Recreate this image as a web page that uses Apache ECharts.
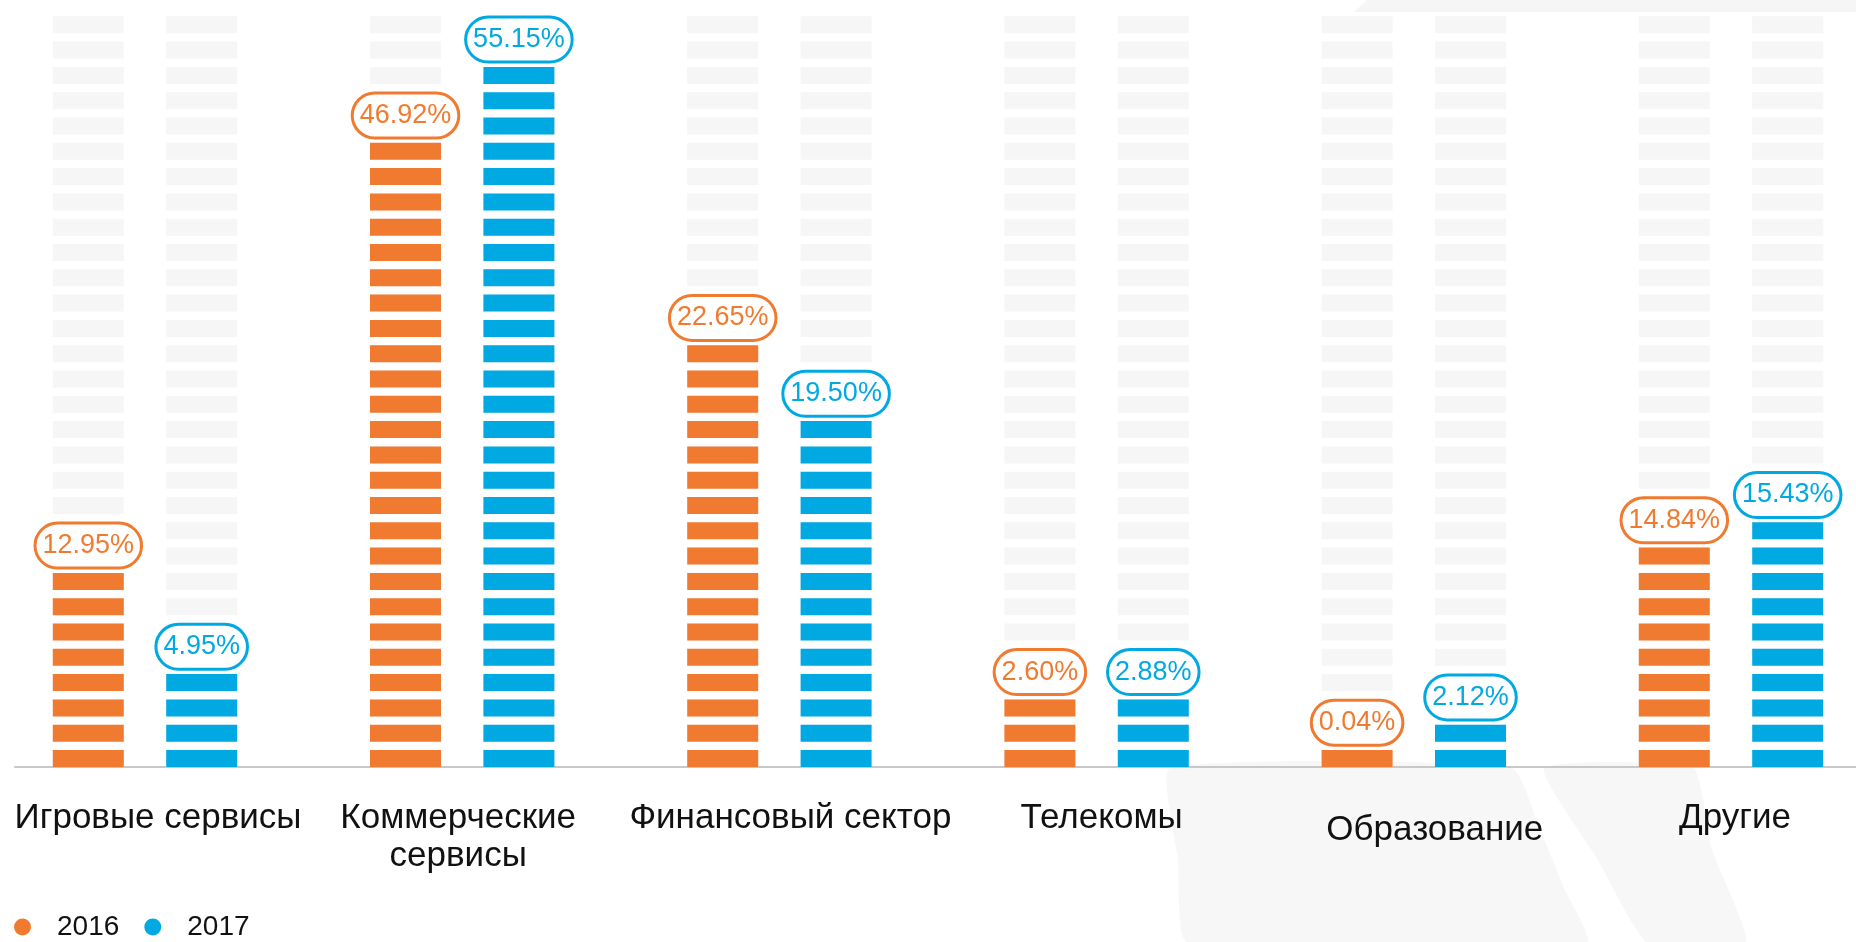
<!DOCTYPE html>
<html>
<head>
<meta charset="utf-8">
<script src="https://cdn.jsdelivr.net/npm/echarts@6/dist/echarts.min.js"></script>
<style>
html, body { margin: 0; padding: 0; background: #fff; }
#main { width: 1856px; height: 942px; }
</style>
</head>
<body>
<div id="main"></div>
<script>
var categories = ['Игровые сервисы', 'Коммерческие\nсервисы', 'Финансовый сектор', 'Телекомы', 'Образование', 'Другие'];
var share2016 = [12.95, 46.92, 22.65, 2.60, 0.04, 14.84];
var share2017 = [4.95, 55.15, 19.50, 2.88, 2.12, 15.43];
// bar heights as drawn in the picture, counted in segments (the drawing is not to scale)
var segments2016 = [8, 25, 17, 3, 1, 9];
var segments2017 = [4, 28, 14, 3, 2, 10];
var totalSegments = 30;

var orange = '#F07B30';
var blue = '#00A9E2';
var grey = '#F6F6F6';
var fontFamily = '"Liberation Sans", Arial, sans-serif';
var shift = 56.7; // half distance between the two columns of a category

var myChart = echarts.init(document.getElementById('main'));

// one segmented column, dx moves it left / right of the category centre
function column(name, color, segs, shares, dx, z) {
    var s = {
        name: name,
        type: 'pictorialBar',
        xAxisIndex: 0,
        yAxisIndex: 0,
        barWidth: 71,
        barGap: '-100%',
        z: z,
        silent: true,
        symbol: 'rect',
        symbolSize: [71, 17],
        symbolRepeat: true,
        symbolMargin: '4.15!',
        symbolOffset: [dx, 4.15],
        itemStyle: { color: color },
        data: segs
    };
    if (shares) {
        s.label = {
            show: true,
            position: 'top',
            distance: -2,
            offset: [dx, 0],
            formatter: function (p) {
                return shares[p.dataIndex].toFixed(2) + '%';
            },
            color: color,
            fontSize: 27,
            fontFamily: fontFamily,
            lineHeight: 32,
            backgroundColor: '#fff',
            borderColor: color,
            borderWidth: 3,
            borderRadius: 24,
            padding: [5, 6]
        };
    }
    return s;
}

var full = categories.map(function () { return totalSegments; });
// small nudges of the category labels as placed in the picture
var labelNudge = [13, -4, 11, 5, 21, 4];

var option = {
    backgroundColor: '#fff',
    animation: false,
    // faint logo watermark behind the chart
    graphic: [{
        type: 'polygon',
        z: 0,
        silent: true,
        shape: { points: [[1367, 0], [1856, 0], [1856, 12], [1354, 12]] },
        style: { fill: grey }
    }, {
        type: 'polygon',
        z: 0,
        silent: true,
        shape: { points: [[1170, 768], [1512, 768], [1540, 830], [1565, 890], [1587, 942], [1187, 942], [1178, 860]], smooth: 0.15 },
        style: { fill: '#F7F7F7' }
    }, {
        type: 'polygon',
        z: 0,
        silent: true,
        shape: { points: [[1544, 768], [1693, 768], [1712, 850], [1746, 942], [1647, 942], [1598, 860]], smooth: 0.15 },
        style: { fill: '#F7F7F7' }
    }],
    legend: {
        left: 9,
        top: 908,
        icon: 'circle',
        itemWidth: 17,
        itemHeight: 17,
        itemGap: 25,
        data: ['2016', '2017'],
        textStyle: { fontSize: 28, color: '#111', fontFamily: fontFamily, padding: [0, 0, 0, 21] }
    },
    grid: [{
        left: -13.6, right: -33.6, top: 8, bottom: 175, outerBoundsMode: 'none'
    }, {
        left: 15, right: 0, top: 8, bottom: 175, outerBoundsMode: 'none'
    }],
    xAxis: [{
        type: 'category',
        gridIndex: 0,
        data: categories.map(function (c, i) {
            var n = labelNudge[i];
            var top = c === 'Образование' ? 12 : 0;
            return {
                value: c,
                textStyle: { padding: [top, n < 0 ? -2 * n : 0, 0, n > 0 ? 2 * n : 0] }
            };
        }),
        axisLine: { show: false },
        axisTick: { show: false },
        axisLabel: {
            interval: 0,
            margin: 32,
            fontSize: 35,
            lineHeight: 38,
            color: '#111',
            fontFamily: fontFamily
        }
    }, {
        type: 'category',
        gridIndex: 1,
        data: categories,
        axisLine: { show: true, lineStyle: { color: '#C8C8C8', width: 2 } },
        axisTick: { show: false },
        axisLabel: { show: false }
    }],
    yAxis: [{
        type: 'value',
        gridIndex: 0,
        min: 0,
        max: totalSegments,
        show: false
    }, {
        type: 'value',
        gridIndex: 1,
        min: 0,
        max: totalSegments,
        show: false
    }],
    series: [
        column('bg2016', grey, full, null, -shift, 2),
        column('bg2017', grey, full, null, shift, 2),
        column('2016', orange, segments2016, share2016, -shift, 3),
        column('2017', blue, segments2017, share2017, shift, 3)
    ]
};

myChart.setOption(option);
window.addEventListener('resize', function () {
    myChart.resize();
});
</script>
</body>
</html>
